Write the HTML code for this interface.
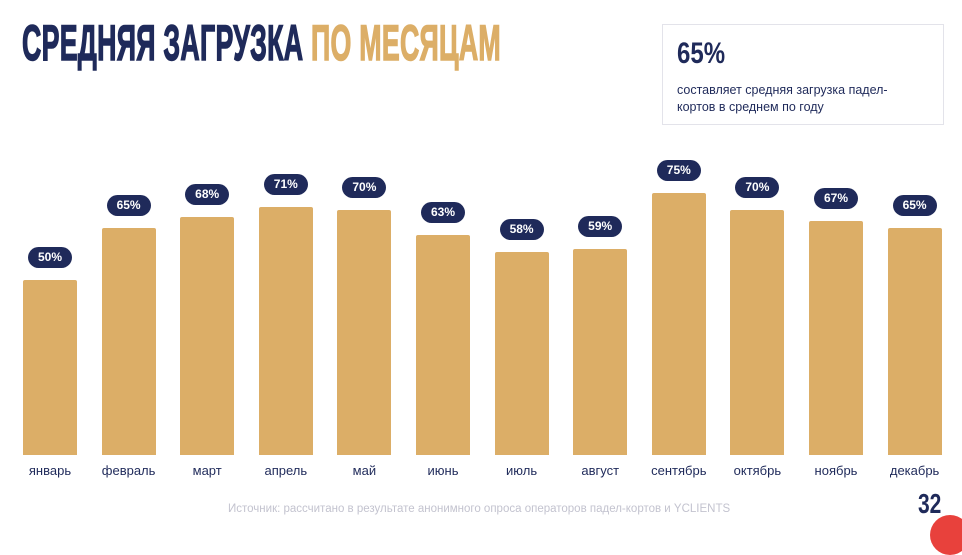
<!DOCTYPE html>
<html><head><meta charset="utf-8">
<style>
body{margin:0;width:962px;height:522px;background:#fff;overflow:hidden;position:relative;font-family:"Liberation Sans","DejaVu Sans",sans-serif}
.title{position:absolute;left:22px;top:14px;font-size:50px;font-weight:bold;color:#1f2a5a;transform:scaleX(0.535);transform-origin:left top;white-space:nowrap;letter-spacing:0.5px;-webkit-text-stroke:1.5px currentColor}
.title span{color:#dcae67}
.box{position:absolute;left:662px;top:24px;width:282px;height:101px;border:1px solid #e3e3ea;box-sizing:border-box}
.box .big{position:absolute;left:14px;top:12px;font-size:30px;font-weight:bold;color:#1f2a5a;transform:scaleX(0.8);transform-origin:left top}
.box .txt{position:absolute;left:14px;top:57px;font-size:12.5px;line-height:17px;color:#1f2a5a;width:240px}
.pill{position:absolute;height:21px;border-radius:11px;background:#1f2a5a;color:#fff;font-size:12px;font-weight:bold;text-align:center;line-height:21px;width:44px}
.bar{position:absolute;background:#dcae67;border-radius:2px 2px 0 0}
.lab{position:absolute;top:463px;width:90px;text-align:center;font-size:13px;color:#1f2a5a}
.src{position:absolute;left:228px;top:503px;font-size:11.5px;color:#c3c3cf}
.pg{position:absolute;left:918px;top:488px;font-size:28px;font-weight:bold;color:#1f2a5a;transform:scaleX(0.75);transform-origin:left top}
.dot{position:absolute;left:930px;top:515px;width:40px;height:40px;border-radius:50%;background:#e8413c}
</style></head><body>
<div class="title">СРЕДНЯЯ ЗАГРУЗКА <span>ПО МЕСЯЦАМ</span></div>
<div class="box">
<div class="big">65%</div>
<div class="txt">составляет средняя загрузка падел-кортов в среднем по году</div>
</div>
<div id="chart"></div>
<div class="src">Источник: рассчитано в результате анонимного опроса операторов падел-кортов и YCLIENTS</div>
<div class="pg">32</div>
<div class="dot"></div>
<script>
const months=["январь","февраль","март","апрель","май","июнь","июль","август","сентябрь","октябрь","ноябрь","декабрь"];
const values=[50,65,68,71,70,63,58,59,75,70,67,65];
const base=455, scale=3.5, x0=23, step=78.6, bw=54;
const yPos=v=>base-v*scale;
const xPos=i=>x0+i*step;
const c=document.getElementById('chart');
values.forEach((v,i)=>{
 const b=document.createElement('div');b.className='bar';
 
 
 b.style.left=xPos(i)+'px';b.style.width=bw+'px';b.style.top=yPos(v)+'px';b.style.height=(v*scale)+'px';
 c.appendChild(b);
 const p=document.createElement('div');p.className='pill';
 
 
 p.textContent=v+'%';p.style.left=(xPos(i)+bw/2-22)+'px';p.style.top=(yPos(v)-33)+'px';
 c.appendChild(p);
 const l=document.createElement('div');l.className='lab';
 
 
 l.textContent=months[i];l.style.left=(xPos(i)+bw/2-45)+'px';
 c.appendChild(l);
});
</script>
</body></html>
